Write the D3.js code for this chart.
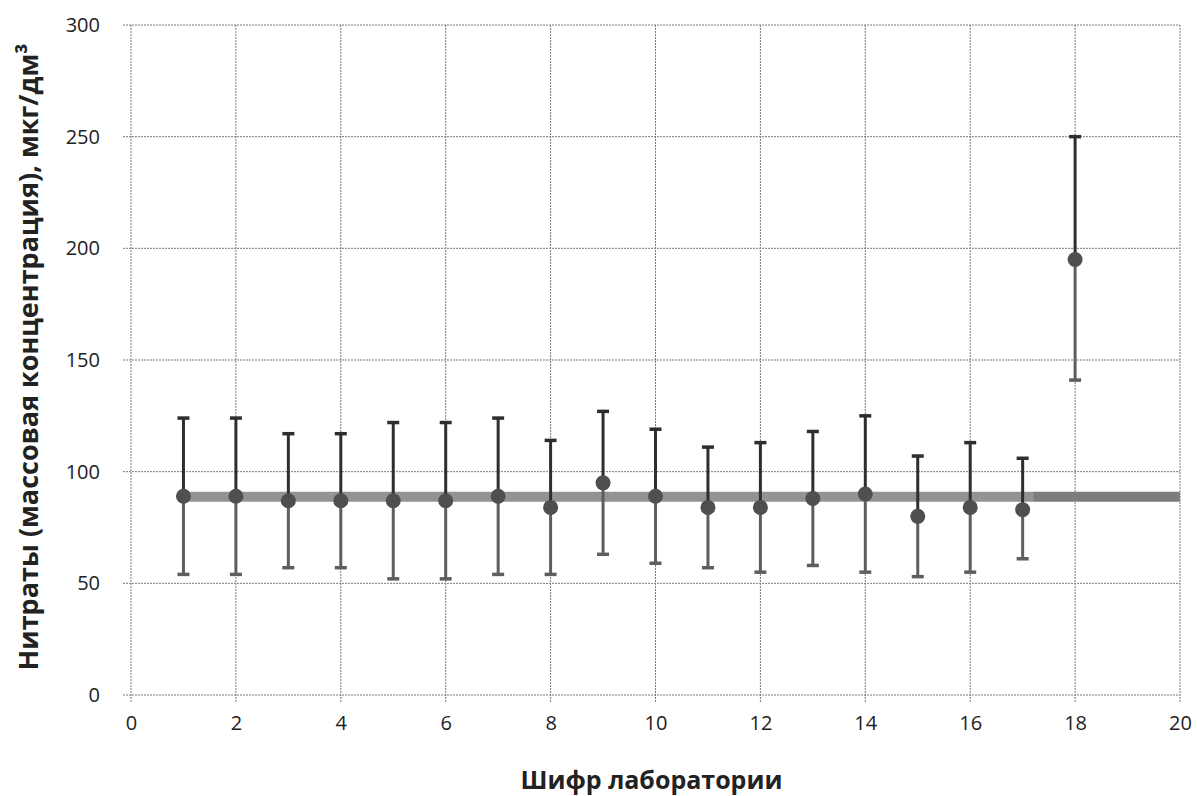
<!DOCTYPE html>
<html><head><meta charset="utf-8">
<script src="https://cdn.jsdelivr.net/npm/d3@7"></script>
<style>
html,body{margin:0;padding:0;background:#fff;}
svg{display:block;}
</style></head>
<body>
<svg id="chart" width="1197" height="796"></svg>
<script>
// ---- data ----
const labs   = [1,2,3,4,5,6,7,8,9,10,11,12,13,14,15,16,17,18];
const values = [89,89,87,87,87,87,89,84,95,89,84,84,88,90,80,84,83,195];
const upper  = [124,124,117,117,122,122,124,114,127,119,111,113,118,125,107,113,106,250];
const lower  = [54,54,57,57,52,52,54,54,63,59,57,55,58,55,53,55,61,141];
const assignedValue = 88.8;
const assignedSegments = [[1, 17.2], [17.2, 20]];
const xTicks = [0,2,4,6,8,10,12,14,16,18,20];
const yTicks = [0,50,100,150,200,250,300];
const xTitle = "Шифр лаборатории";
const yTitle = "Нитраты (массовая концентрация), мкг/дм³";

const svg = d3.select("#chart");
const m = {left:131, right:1180, top:25, bottom:695};
const x = d3.scaleLinear().domain([0,20]).range([m.left, m.right]);
const y = d3.scaleLinear().domain([0,300]).range([m.bottom, m.top]);
const font = "'Open Sans', sans-serif";

// grid
const grid = svg.append("g");
grid.selectAll("line.v").data(xTicks).join("line")
  .attr("x1", d=>x(d)).attr("x2", d=>x(d)).attr("y1", y(300)).attr("y2", y(0)+8)
  .attr("stroke","#7a7a7a").attr("stroke-width",1).attr("stroke-dasharray","2,1");
grid.selectAll("line.h").data(yTicks).join("line")
  .attr("y1", d=>y(d)).attr("y2", d=>y(d)).attr("x1", x(0)-8).attr("x2", x(20))
  .attr("stroke","#7a7a7a").attr("stroke-width",1).attr("stroke-dasharray","2,1");

// axes labels via d3 axes
const xAxis = svg.append("g").attr("transform",`translate(0,${y(0)})`)
  .call(d3.axisBottom(x).tickValues(xTicks).tickSize(0).tickPadding(28));
const yAxis = svg.append("g").attr("transform",`translate(${x(0)},0)`)
  .call(d3.axisLeft(y).tickValues(yTicks).tickSize(0).tickPadding(31));
[xAxis,yAxis].forEach(a=>{
  a.select(".domain").remove();
  a.selectAll("text").attr("font-family",font).attr("font-size",20).attr("fill","#222");
});
xAxis.selectAll("text").attr("dy","0.35em");

// assigned value band
svg.append("g").selectAll("line").data(assignedSegments).join("line")
  .attr("x1", d=>x(d[0])).attr("x2", d=>x(d[1]))
  .attr("y1", y(assignedValue)).attr("y2", y(assignedValue))
  .attr("stroke",(d,i)=> i===0 ? "#939393" : "#7c7c7c").attr("stroke-width",10);

// error bars
const capW = 6;
const bars = svg.append("g");
labs.forEach((l,i)=>{
  const cx = x(l);
  bars.append("line").attr("x1",cx).attr("x2",cx).attr("y1",y(values[i])).attr("y2",y(upper[i]))
    .attr("stroke","#2e2e2e").attr("stroke-width",3);
  bars.append("line").attr("x1",cx-capW).attr("x2",cx+capW).attr("y1",y(upper[i])).attr("y2",y(upper[i]))
    .attr("stroke","#2e2e2e").attr("stroke-width",3.5);
  bars.append("line").attr("x1",cx).attr("x2",cx).attr("y1",y(values[i])).attr("y2",y(lower[i]))
    .attr("stroke","#5e5e5e").attr("stroke-width",3);
  bars.append("line").attr("x1",cx-capW).attr("x2",cx+capW).attr("y1",y(lower[i])).attr("y2",y(lower[i]))
    .attr("stroke","#5e5e5e").attr("stroke-width",3.5);
});

// points
svg.append("g").selectAll("circle").data(labs).join("circle")
  .attr("cx", d=>x(d)).attr("cy",(d,i)=>y(values[i])).attr("r",7.5)
  .attr("fill","#4f4f4f");

// titles
svg.append("text").attr("x",(m.left+m.right)/2 - 4).attr("y",789)
  .attr("text-anchor","middle").attr("font-family",font).attr("font-weight","bold")
  .attr("font-size",25).attr("fill","#222").text(xTitle);
svg.append("text").attr("transform",`translate(38,357) rotate(-90)`)
  .attr("text-anchor","middle").attr("font-family",font).attr("font-weight","bold")
  .attr("font-size",27).attr("fill","#222").text(yTitle);
</script>
</body></html>
